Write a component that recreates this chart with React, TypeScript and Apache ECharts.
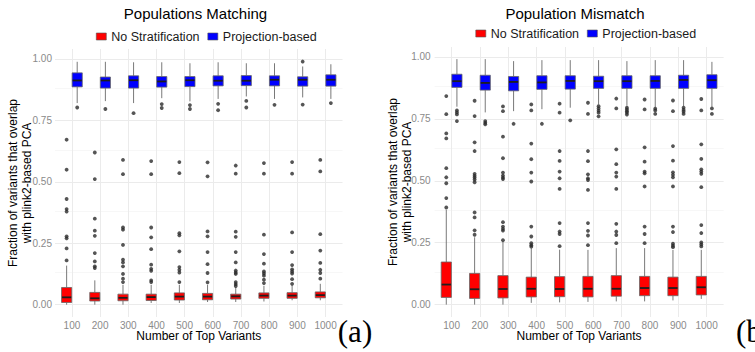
import React, { useEffect, useRef } from 'react';
import * as echarts from 'echarts';

const categories = ['100', '200', '300', '400', '500', '600', '700', '800', '900', '1000'];
const yTickValues = [0, 0.25, 0.5, 0.75, 1];
const yMinorValues = [0.125, 0.375, 0.625, 0.875];
const seriesNames = ['No Stratification', 'Projection-based'];

// each row: [lower whisker, Q1, median, Q3, upper whisker]
const matchNoStratBox = [
  [0.0, 0.009, 0.03, 0.07, 0.159],
  [0.0, 0.015, 0.026, 0.05, 0.099],
  [0.0, 0.016, 0.028, 0.043, 0.081],
  [0.007, 0.017, 0.031, 0.043, 0.081],
  [0.007, 0.019, 0.033, 0.048, 0.081],
  [0.011, 0.02, 0.033, 0.046, 0.081],
  [0.011, 0.023, 0.034, 0.043, 0.07],
  [0.013, 0.026, 0.037, 0.048, 0.077],
  [0.018, 0.026, 0.037, 0.049, 0.079],
  [0.018, 0.028, 0.039, 0.052, 0.085],
];
const matchProjBox = [
  [0.82, 0.886, 0.912, 0.943, 0.988],
  [0.828, 0.881, 0.912, 0.926, 0.988],
  [0.82, 0.881, 0.913, 0.931, 0.986],
  [0.84, 0.885, 0.908, 0.928, 0.986],
  [0.827, 0.887, 0.913, 0.928, 0.982],
  [0.837, 0.89, 0.911, 0.931, 0.986],
  [0.847, 0.891, 0.911, 0.932, 0.982],
  [0.837, 0.89, 0.915, 0.931, 0.982],
  [0.843, 0.889, 0.915, 0.927, 0.969],
  [0.837, 0.889, 0.915, 0.935, 0.978],
];
const matchNoStratOut = [
  [0.671, 0.549, 0.43, 0.389, 0.379, 0.278, 0.27, 0.229, 0.18],
  [0.619, 0.511, 0.35, 0.301, 0.28, 0.21, 0.176, 0.156, 0.149],
  [0.589, 0.531, 0.314, 0.305, 0.243, 0.183, 0.172, 0.156, 0.125, 0.106, 0.092],
  [0.584, 0.531, 0.314, 0.274, 0.226, 0.163, 0.146, 0.138, 0.099, 0.092],
  [0.58, 0.535, 0.291, 0.282, 0.217, 0.153, 0.142, 0.131, 0.092],
  [0.579, 0.522, 0.298, 0.278, 0.214, 0.165, 0.129, 0.091],
  [0.566, 0.533, 0.297, 0.276, 0.214, 0.172, 0.139, 0.131, 0.125, 0.092, 0.084, 0.076],
  [0.576, 0.533, 0.285, 0.206, 0.167, 0.135, 0.127, 0.118, 0.102, 0.088],
  [0.58, 0.533, 0.294, 0.214, 0.161, 0.144, 0.135, 0.127, 0.104, 0.085],
  [0.589, 0.542, 0.287, 0.22, 0.17, 0.142, 0.129, 0.106],
];
const matchProjOut = [
  [0.802],
  [0.796],
  [0.779],
  [0.816, 0.8],
  [0.812, 0.796],
  [0.817, 0.791],
  [0.829, 0.802],
  [0.813],
  [0.989, 0.814],
  [0.82],
];

const mismatchNoStratBox = [
  [0.0, 0.029, 0.081, 0.172, 0.382],
  [0.0, 0.025, 0.062, 0.126, 0.272],
  [0.0, 0.027, 0.063, 0.117, 0.255],
  [0.007, 0.031, 0.064, 0.111, 0.228],
  [0.009, 0.032, 0.063, 0.113, 0.222],
  [0.011, 0.031, 0.064, 0.114, 0.221],
  [0.013, 0.034, 0.064, 0.117, 0.228],
  [0.013, 0.036, 0.067, 0.114, 0.228],
  [0.017, 0.036, 0.067, 0.111, 0.221],
  [0.023, 0.039, 0.07, 0.114, 0.221],
];
const mismatchProjBox = [
  [0.799, 0.877, 0.902, 0.93, 0.991],
  [0.776, 0.866, 0.895, 0.926, 0.991],
  [0.781, 0.863, 0.899, 0.921, 0.983],
  [0.789, 0.869, 0.897, 0.924, 0.987],
  [0.795, 0.87, 0.903, 0.924, 0.987],
  [0.808, 0.873, 0.902, 0.922, 0.987],
  [0.803, 0.873, 0.902, 0.924, 0.983],
  [0.797, 0.873, 0.903, 0.924, 0.987],
  [0.801, 0.873, 0.907, 0.926, 0.987],
  [0.799, 0.873, 0.906, 0.928, 0.98],
];
const mismatchNoStratOut = [
  [0.842, 0.769, 0.691, 0.671, 0.551, 0.514, 0.49, 0.43, 0.392],
  [0.823, 0.761, 0.655, 0.62, 0.528, 0.52, 0.513, 0.505, 0.494, 0.372, 0.352, 0.3, 0.282],
  [0.8, 0.781, 0.678, 0.591, 0.533, 0.521, 0.513, 0.507, 0.333, 0.315, 0.306, 0.299, 0.26],
  [0.808, 0.784, 0.65, 0.587, 0.533, 0.497, 0.315, 0.275, 0.248, 0.24, 0.234],
  [0.811, 0.775, 0.62, 0.58, 0.537, 0.51, 0.467, 0.329, 0.295, 0.285, 0.236],
  [0.815, 0.77, 0.62, 0.579, 0.526, 0.51, 0.503, 0.463, 0.329, 0.298, 0.279, 0.24],
  [0.832, 0.792, 0.627, 0.567, 0.533, 0.517, 0.467, 0.326, 0.295, 0.281, 0.248],
  [0.828, 0.788, 0.635, 0.577, 0.537, 0.53, 0.477, 0.315, 0.285, 0.248],
  [0.824, 0.781, 0.64, 0.581, 0.534, 0.524, 0.514, 0.477, 0.315, 0.293, 0.246, 0.238, 0.232],
  [0.83, 0.784, 0.647, 0.588, 0.546, 0.537, 0.528, 0.474, 0.321, 0.289, 0.251, 0.243, 0.235],
];
const mismatchProjOut = [
  [0.784, 0.776, 0.768, 0.741],
  [0.741, 0.734, 0.728],
  [0.73],
  [0.73],
  [0.744],
  [0.801, 0.792, 0.783, 0.775, 0.76],
  [0.795, 0.788, 0.781, 0.775, 0.767],
  [0.791, 0.784, 0.77],
  [0.795, 0.786, 0.779, 0.77],
  [0.792, 0.77],
];

const RED = '#FF0000';
const BLUE = '#0000FF';
const DODGE = 0.1875;
const BOX_W = 0.36;
const FONT = '"Liberation Sans", Arial, sans-serif';

function boxRender(color: string) {
  return (params: any, api: any) => {
    const x = api.value(0);
    const lo = api.coord([x, api.value(1)]);
    const q1 = api.coord([x, api.value(2)]);
    const md = api.coord([x, api.value(3)]);
    const q3 = api.coord([x, api.value(4)]);
    const hi = api.coord([x, api.value(5)]);
    const w = api.size([BOX_W, 0])[0];
    const cx = lo[0];
    const left = cx - w / 2;
    return {
      type: 'group',
      children: [
        {
          type: 'line',
          silent: true,
          shape: { x1: cx, y1: hi[1], x2: cx, y2: q3[1] },
          style: { stroke: '#6a6a6a', lineWidth: 0.9 },
        },
        {
          type: 'line',
          silent: true,
          shape: { x1: cx, y1: q1[1], x2: cx, y2: lo[1] },
          style: { stroke: '#6a6a6a', lineWidth: 0.9 },
        },
        {
          type: 'rect',
          silent: true,
          shape: { x: left, y: q3[1], width: w, height: q1[1] - q3[1] },
          style: { fill: color, stroke: '#666666', lineWidth: 0.8 },
        },
        {
          type: 'line',
          silent: true,
          z2: 10,
          shape: { x1: left + 0.5, y1: md[1], x2: left + w - 0.5, y2: md[1] },
          style: { stroke: '#1e1e1e', lineWidth: 1.8 },
        },
      ],
    };
  };
}

function boxData(rows: number[][], offset: number) {
  return rows.map((r, i) => [i + 1 + offset, ...r]);
}
function outData(rows: number[][], offset: number) {
  const out: number[][] = [];
  rows.forEach((vals, i) => vals.forEach((v) => out.push([i + 1 + offset, v])));
  return out;
}

function panelSeries(
  idx: number,
  noStratBox: number[][],
  projBox: number[][],
  noStratOut: number[][],
  projOut: number[][]
) {
  const gridStyle = { color: '#EBEBEB', width: 1, type: 'solid' };
  const minorStyle = { color: '#F2F2F2', width: 0.6, type: 'solid' };
  return [
    {
      type: 'scatter',
      xAxisIndex: idx,
      yAxisIndex: idx,
      data: [],
      silent: true,
      z: 0,
      markLine: {
        silent: true,
        z: 0,
        symbol: ['none', 'none'],
        label: { show: false },
        animation: false,
        data: [
          ...yMinorValues.map((v) => ({ yAxis: v, lineStyle: minorStyle })),
          ...yTickValues.map((v) => ({ yAxis: v, lineStyle: gridStyle })),
          ...categories.map((c, i) => ({ xAxis: i + 1, lineStyle: gridStyle })),
        ],
      },
    },
    {
      name: seriesNames[0],
      type: 'custom',
      xAxisIndex: idx,
      yAxisIndex: idx,
      itemStyle: { color: RED },
      encode: { x: 0, y: [1, 2, 3, 4, 5] },
      renderItem: boxRender(RED),
      data: boxData(noStratBox, -DODGE),
      z: 2,
    },
    {
      name: seriesNames[1],
      type: 'custom',
      xAxisIndex: idx,
      yAxisIndex: idx,
      itemStyle: { color: BLUE },
      encode: { x: 0, y: [1, 2, 3, 4, 5] },
      renderItem: boxRender(BLUE),
      data: boxData(projBox, DODGE),
      z: 2,
    },
    {
      type: 'scatter',
      xAxisIndex: idx,
      yAxisIndex: idx,
      symbolSize: 3.8,
      itemStyle: { color: '#2b2b2b' },
      data: outData(noStratOut, -DODGE),
      z: 3,
    },
    {
      type: 'scatter',
      xAxisIndex: idx,
      yAxisIndex: idx,
      symbolSize: 3.8,
      itemStyle: { color: '#2b2b2b' },
      data: outData(projOut, DODGE),
      z: 3,
    },
  ];
}

function xAxisFor(idx: number) {
  return {
    type: 'value',
    gridIndex: idx,
    min: 0.4,
    max: 10.6,
    axisLine: { show: false },
    axisTick: { show: false },
    splitLine: { show: false },
    axisLabel: {
      customValues: categories.map((c, i) => i + 1),
      formatter: (v: number) => categories[Math.round(v) - 1] ?? '',
      color: '#8a8a8a',
      fontSize: 10,
      fontFamily: FONT,
      margin: 3,
    },
  };
}
function yAxisFor(idx: number, margin: number) {
  return {
    type: 'value',
    gridIndex: idx,
    min: -0.05,
    max: 1.04,
    axisLine: { show: false },
    axisTick: { show: false },
    splitLine: { show: false },
    axisLabel: {
      customValues: yTickValues,
      formatter: (v: number) => v.toFixed(2),
      color: '#8a8a8a',
      fontSize: 10,
      fontFamily: FONT,
      margin,
    },
  };
}

function txt(x: number, y: number, text: string, size: number, extra: any = {}) {
  return {
    type: 'text',
    x,
    y,
    rotation: extra.rotation ?? 0,
    style: {
      text,
      fontSize: size,
      fontFamily: extra.family ?? FONT,
      fill: extra.fill ?? '#000',
      align: extra.align ?? 'center',
      verticalAlign: 'middle',
    },
  };
}

export default function App() {
  const ref = useRef<HTMLDivElement>(null);
  useEffect(() => {
    if (!ref.current) return;
    const chart = echarts.init(ref.current, undefined, { renderer: 'svg' });
    const legendBase = {
      orient: 'horizontal',
      itemWidth: 10,
      itemHeight: 7,
      itemGap: 8,
      selectedMode: false,
      textStyle: { fontSize: 12.5, color: '#1a1a1a', fontFamily: FONT },
      data: [
        { name: seriesNames[0], icon: 'rect', itemStyle: { color: RED, borderColor: '#555', borderWidth: 0.6 } },
        { name: seriesNames[1], icon: 'rect', itemStyle: { color: BLUE, borderColor: '#555', borderWidth: 0.6 } },
      ],
    };
    chart.setOption({
      animation: false,
      backgroundColor: '#fff',
      grid: [
        { left: 55, top: 49, width: 287.5, height: 268 },
        { left: 434.6, top: 47, width: 289, height: 270 },
      ],
      xAxis: [xAxisFor(0), xAxisFor(1)],
      yAxis: [yAxisFor(0, 3), yAxisFor(1, 4)],
      legend: [
        { ...legendBase, left: 91, top: 25 },
        { ...legendBase, left: 470.5, top: 22 },
      ],
      series: [
        ...panelSeries(0, matchNoStratBox, matchProjBox, matchNoStratOut, matchProjOut),
        ...panelSeries(1, mismatchNoStratBox, mismatchProjBox, mismatchNoStratOut, mismatchProjOut),
      ],
      graphic: [
        txt(195.5, 13.5, 'Populations Matching', 15),
        txt(575, 13.5, 'Population Mismatch', 15),
        txt(198.8, 336, 'Number of Top Variants', 12),
        txt(579, 336, 'Number of Top Variants', 12),
        txt(13, 183, 'Fraction of variants that overlap', 12, { rotation: Math.PI / 2 }),
        txt(27, 183, 'with plink2-based PCA', 12, { rotation: Math.PI / 2 }),
        txt(393, 182, 'Fraction of variants that overlap', 12, { rotation: Math.PI / 2 }),
        txt(407, 182, 'with plink2-based PCA', 12, { rotation: Math.PI / 2 }),
        txt(355, 331, '(a)', 31, { family: '"Liberation Serif", "DejaVu Serif", serif' }),
        txt(736, 331, '(b)', 31, { family: '"Liberation Serif", "DejaVu Serif", serif', align: 'left' }),
      ],
    });
    return () => chart.dispose();
  }, []);
  return (
    <div
      ref={ref}
      style={{ position: 'fixed', left: 0, top: 0, width: 755, height: 352, background: '#fff' }}
    />
  );
}
